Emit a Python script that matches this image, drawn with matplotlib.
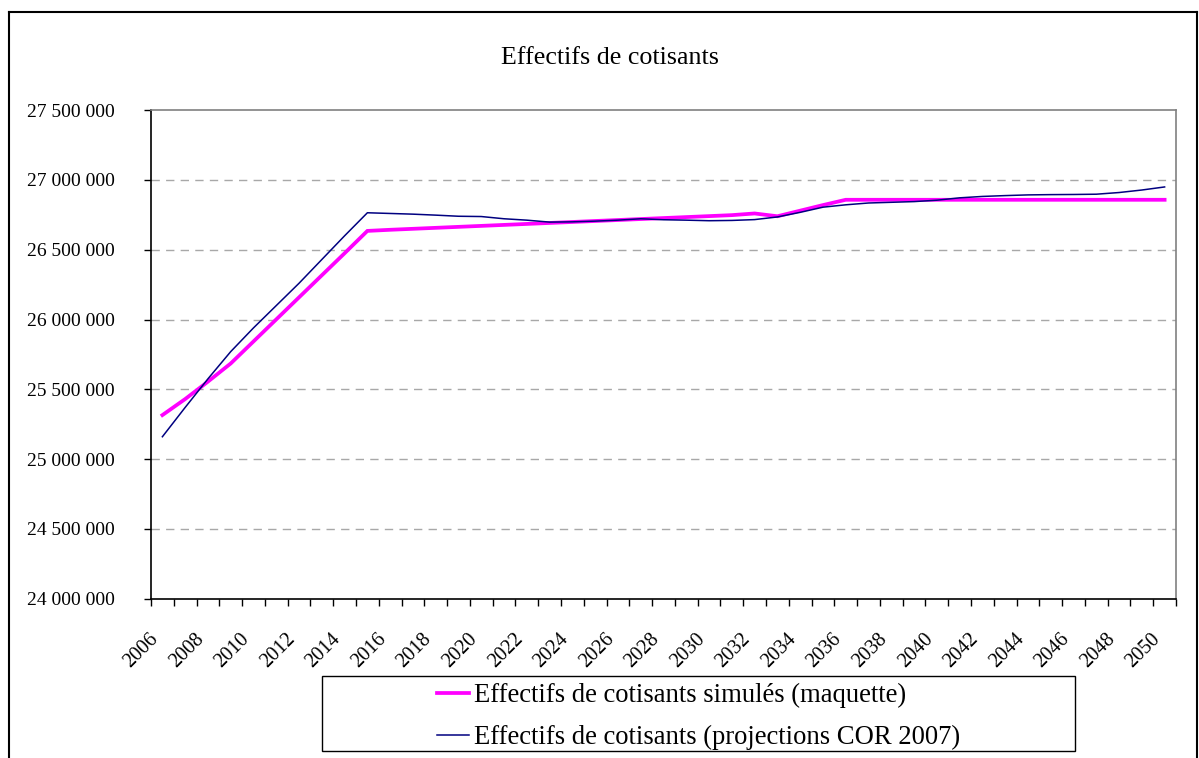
import matplotlib
matplotlib.use("Agg")
import matplotlib.pyplot as plt
from matplotlib.patches import Rectangle
from matplotlib.lines import Line2D
from matplotlib.ticker import FuncFormatter, FixedLocator
import numpy as np

years = list(range(2006, 2051))

simules = [
    25315000, 25430000, 25555000, 25685000, 25843000, 26001000, 26159000, 26317000,
    26475000, 26635000, 26643000, 26650000, 26657000, 26664000, 26671000, 26678000,
    26685000, 26692000, 26699000, 26706000, 26713000, 26720000, 26727000, 26734000,
    26741000, 26748000, 26760000, 26740000, 26780000, 26820000, 26858000, 26858000,
    26858000, 26858000, 26858000, 26858000, 26858000, 26858000, 26858000, 26858000,
    26858000, 26858000, 26858000, 26858000, 26858000,
]

projections = [
    25160000, 25370000, 25575000, 25770000, 25940000, 26100000, 26260000, 26430000,
    26600000, 26765000, 26760000, 26755000, 26748000, 26740000, 26738000, 26722000,
    26712000, 26698000, 26700000, 26705000, 26712000, 26722000, 26715000, 26712000,
    26708000, 26710000, 26716000, 26735000, 26768000, 26805000, 26822000, 26835000,
    26840000, 26845000, 26855000, 26872000, 26882000, 26888000, 26893000, 26895000,
    26896000, 26898000, 26910000, 26928000, 26950000,
]

title = "Effectifs de cotisants"
label_sim = "Effectifs de cotisants simulés (maquette)"
label_proj = "Effectifs de cotisants (projections COR 2007)"

plt.rcParams['font.family'] = ['Liberation Serif', 'DejaVu Serif']

W, H = 1199, 758
fig = plt.figure(figsize=(W / 100, H / 100), dpi=100)

def fx(px):
    return px / W

def fy(py):
    return 1 - py / H

# outer border
fig.add_artist(Line2D([fx(9), fx(9)], [fy(12), 0], color='black', lw=1.5, transform=fig.transFigure))
fig.add_artist(Line2D([fx(9), fx(1197)], [fy(12), fy(12)], color='black', lw=1.5, transform=fig.transFigure))
fig.add_artist(Line2D([fx(1197), fx(1197)], [fy(12), 0], color='black', lw=1.5, transform=fig.transFigure))

left, right, top, bottom = 151, 1176, 110.2, 598.6
ax = fig.add_axes([fx(left), fy(bottom), fx(right) - fx(left), fy(top) - fy(bottom)])

x = np.arange(len(years))
ax.plot(x, simules, color='#FF00FF', lw=2.7, label=label_sim, solid_joinstyle='miter')
ax.plot(x, projections, color='#000080', lw=1.1, label=label_proj)

ax.set_xlim(-0.5, len(years) - 0.5)
ax.set_ylim(24000000, 27500000)

yt = np.arange(24000000, 27500001, 500000)
ax.set_yticks(yt)
ax.yaxis.set_major_formatter(FuncFormatter(lambda v, p: '{:,.0f}'.format(v).replace(',', ' ')))
ax.tick_params(axis='y', direction='out', length=5, width=1, labelsize=14, pad=21, color='black')

# category boundaries ticks
ax.xaxis.set_major_locator(FixedLocator(np.arange(-0.5, len(years), 1)))
ax.xaxis.set_major_formatter(FuncFormatter(lambda v, p: ''))
ax.tick_params(axis='x', which='major', direction='out', length=5, width=1, color='black')
lab_idx = list(range(0, len(years), 2))
ax.xaxis.set_minor_locator(FixedLocator([i - 0.3 for i in lab_idx]))
ax.set_xticklabels([str(years[i]) for i in lab_idx], minor=True)
ax.tick_params(axis='x', which='minor', length=0, labelsize=14.5, pad=27)
for t in ax.get_xticklabels(minor=True):
    t.set_rotation(45)
    t.set_ha('right')
    t.set_va('center')
    t.set_rotation_mode('anchor')

for v in yt[1:-1]:
    ax.axhline(v, color='#A8A8A8', lw=1, dashes=(6, 4.5), zorder=0)

ax.spines['left'].set_color('black')
ax.spines['bottom'].set_color('black')
ax.spines['top'].set_color('#808080')
ax.spines['right'].set_color('#808080')
for s in ax.spines.values():
    s.set_linewidth(1.2)

fig.text(fx(610), fy(58), title, ha='center', va='center', fontsize=18.7)

# legend box
fig.add_artist(Rectangle((fx(322), fy(751)), fx(1075) - fx(322), fy(676) - fy(751),
                         transform=fig.transFigure, fill=False, ec='black', lw=1))
h, l = ax.get_legend_handles_labels()
fig.legend(h, l, loc='center', bbox_to_anchor=(fx(698.5), fy(716.5)), frameon=False,
           fontsize=19.2, handlelength=1.2, handletextpad=0.2, labelspacing=0.62,
           borderpad=0, borderaxespad=0)

fig.savefig('out.png', dpi=100)
